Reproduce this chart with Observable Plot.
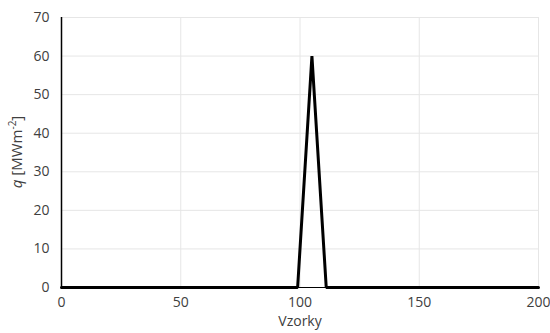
<!DOCTYPE html>
<html><head><meta charset="utf-8">
<script src="https://cdn.jsdelivr.net/npm/d3@7"></script>
<script src="https://cdn.jsdelivr.net/npm/@observablehq/plot@0.6"></script>
<style>
body{margin:0;background:#fff;}
svg{font-family:"Open Sans","Liberation Sans",sans-serif;}
</style>
</head><body><div id="chart"></div>
<script>
const samples = [0, 99, 105, 111, 200];
const qValues = [0, 0, 60, 0, 0];
const xTicks = [0, 50, 100, 150, 200];
const yTicks = [0, 10, 20, 30, 40, 50, 60, 70];

const data = samples.map((s, i) => ({x: s, y: qValues[i]}));

const plot = Plot.plot({
  width: 550,
  height: 333,
  marginLeft: 61,
  marginRight: 12,
  marginTop: 17,
  marginBottom: 46,
  style: {fontSize: "14px", color: "#404040", background: "#fff"},
  x: {domain: [0, 200], ticks: xTicks, label: null, tickSize: 0, tickPadding: 10},
  y: {domain: [0, 70], ticks: yTicks, label: null, tickSize: 0, tickPadding: 12},
  marks: [
    Plot.gridX(xTicks, {stroke: "#e6e6e6", strokeOpacity: 1, strokeWidth: 1}),
    Plot.gridY(yTicks, {stroke: "#e6e6e6", strokeOpacity: 1, strokeWidth: 1}),
    Plot.axisX({ticks: xTicks, tickSize: 0, tickPadding: 10, fontSize: 14, label: null, fill: "#404040"}),
    Plot.axisY({ticks: yTicks, tickSize: 0, tickPadding: 12, fontSize: 14, label: null, fill: "#404040"}),
    Plot.ruleX([0], {stroke: "#000", strokeWidth: 1.5}),
    Plot.ruleY([0], {stroke: "#000", strokeWidth: 1}),
    Plot.line(data, {x: "x", y: "y", stroke: "#000", strokeWidth: 3, strokeLinejoin: "miter"}),
    Plot.text(["Vzorky"], {frameAnchor: "bottom", dy: 38, fontSize: 14, fill: "#404040"})
  ]
});

// y-axis label with italic q and superscript
const svg = d3.select(plot);
const t = svg.append("text")
  .attr("transform", "translate(22,152) rotate(-90)")
  .attr("text-anchor", "middle")
  .attr("font-size", 15)
  .attr("fill", "#404040");
t.append("tspan").attr("font-style", "italic").text("q");
t.append("tspan").text(" [MWm");
t.append("tspan").attr("dy", -6).attr("font-size", 10).text("-2");
t.append("tspan").attr("dy", 6).text("]");

document.getElementById("chart").appendChild(plot);
</script>
</body></html>
